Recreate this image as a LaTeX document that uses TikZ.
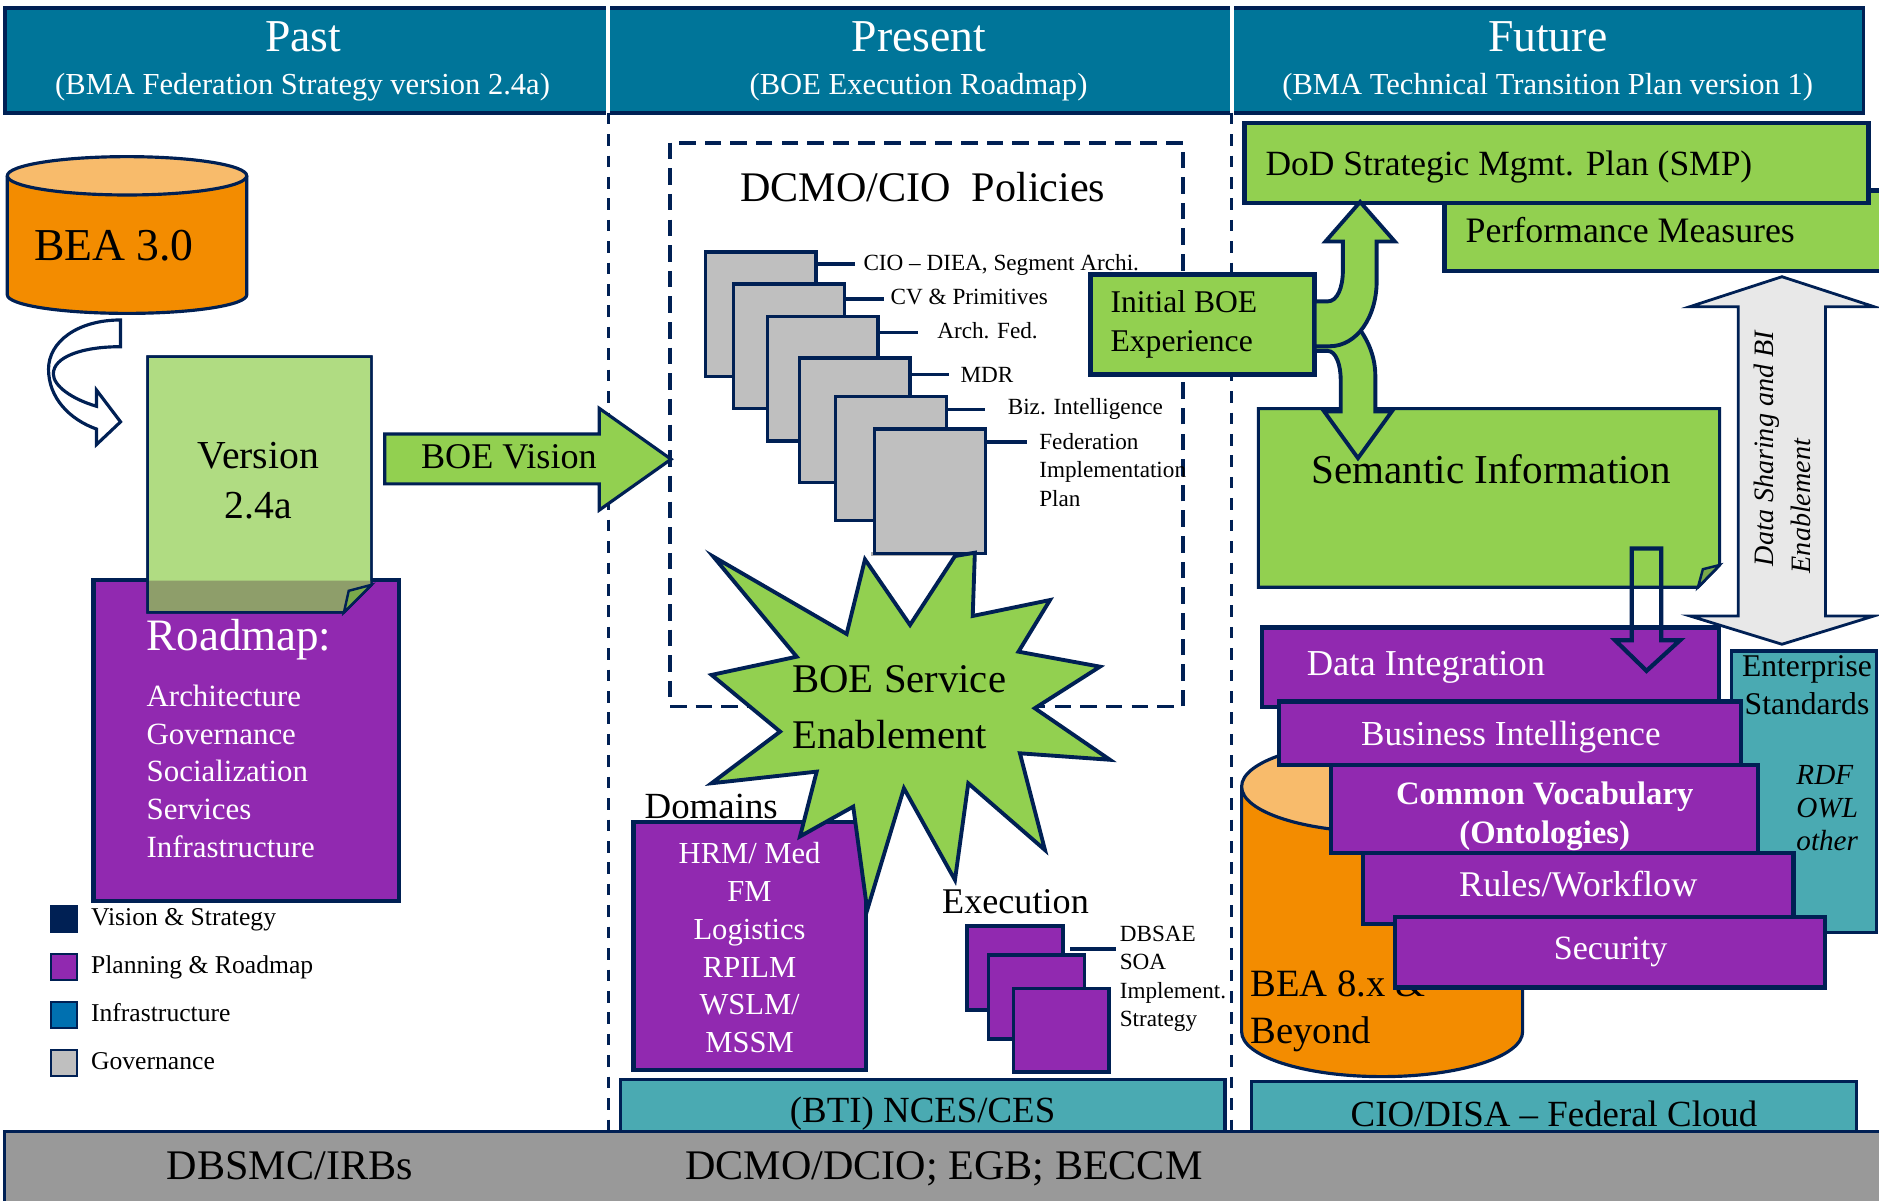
\documentclass[tikz,border=0pt]{standalone}
\usepackage{fontspec}
\setmainfont{Liberation Serif}

\definecolor{navy}{RGB}{0,32,84}
\definecolor{hdrteal}{RGB}{0,117,153}
\definecolor{infteal}{RGB}{74,170,178}
\definecolor{orng}{RGB}{243,140,0}
\definecolor{orngtop}{RGB}{248,187,107}
\definecolor{paleg}{RGB}{176,220,130}
\definecolor{grn}{RGB}{146,208,80}
\definecolor{flapg}{RGB}{122,170,74}
\definecolor{purp}{RGB}{145,41,176}
\definecolor{olivemix}{RGB}{142,158,106}
\definecolor{pagegray}{RGB}{191,191,191}
\definecolor{bargray}{RGB}{153,153,153}
\definecolor{infblue}{RGB}{0,112,176}
\definecolor{arrgray}{RGB}{232,232,232}

\newcommand{\fsz}[2]{\fontsize{#1}{#2}\selectfont}

\tikzset{
  outl/.style={draw=navy, line width=0.9pt},
  heavy/.style={draw=navy, line width=1.3pt},
  coldash/.style={draw=navy, line width=0.9pt, dash pattern=on 3.3pt off 2.8pt},
  boxdash/.style={draw=navy, line width=1.1pt, dash pattern=on 4.7pt off 2.6pt},
  lead/.style={draw=navy, line width=1pt},
  lbl/.style={inner sep=0pt, anchor=base west},
  lblc/.style={inner sep=0pt, anchor=base},
  hdtitle/.style={lblc, text=white, font=\fsz{13}{15}},
  hdsub/.style={lblc, text=white, font=\fsz{8.7}{10}},
  page/.style={draw=navy, line width=0.9pt, fill=pagegray, anchor=north west,
    inner sep=0pt, minimum width=1.108cm, minimum height=1.248cm},
  execsq/.style={draw=navy, line width=1pt, fill=purp, anchor=north west,
    inner sep=0pt, minimum width=0.96cm, minimum height=0.84cm},
  legsq/.style={draw=navy, line width=0.5pt, inner sep=0pt, minimum size=0.264cm},
  legtxt/.style={lbl, font=\fsz{7.3}{8}},
  tinytxt/.style={lbl, font=\fsz{6.6}{8.06}, align=left},
  stack/.style={draw=navy, line width=1.2pt, fill=purp},
}

\begin{document}
\begin{tikzpicture}[x=0.012cm, y=-0.012cm]
\useasboundingbox (0,0) rectangle (1568,1002);
\clip (0,0) rectangle (1568,1002);

% header band
\fill[hdrteal] (4,7) rectangle (1555,94);
\draw[navy, line width=1.1pt] (4,7) rectangle (1555,94);
\draw[white, line width=1pt] (507.5,5) -- (507.5,96) (1028,5) -- (1028,96);
\node[hdtitle] (past) at (253,43) {Past};
\node[hdsub] (pastsub) at (252.5,78.5) {(BMA Federation Strategy version 2.4a)};
\node[hdtitle] (present) at (767,43) {Present};
\node[hdsub] (presentsub) at (766.5,78.5) {(BOE Execution Roadmap)};
\node[hdtitle] (future) at (1291.5,43) {Future};
\node[hdsub] (futuresub) at (1291.5,78.5) {(BMA Technical Transition Plan version 1)};

% column separators
\draw[coldash] (507.5,94) -- (507.5,944);
\draw[coldash] (1028,94) -- (1028,944);

% past: BEA 3.0
\path[outl, fill=orng] (6.1,146.7) -- (6.1,246) .. controls (6.1,254.6) and (50.8,261.5) .. (106,261.5)
  .. controls (161.2,261.5) and (205.9,254.6) .. (205.9,246) -- (205.9,146.7);
\draw[outl, fill=orngtop] (106,146.7) ellipse [x radius=99.9, y radius=16];
\node[lbl, font=\fsz{13}{15}] (bea3) at (27.8,217.5) {BEA 3.0};

% u-turn arrow
\draw[outl, fill=white] (100.6,267) .. controls (65,267) and (40.5,285) .. (40.5,308)
  .. controls (40.5,332) and (58,350) .. (80.5,358) -- (80.5,371) -- (100.6,352) -- (80.5,325.5)
  -- (80.5,339) .. controls (60,333) and (44.5,322) .. (44.5,312)
  .. controls (44.5,298) and (68,289.3) .. (100.6,289.3) -- cycle;

% roadmap and version note
\draw[heavy, fill=purp] (78,484) rectangle (333,752);
\draw[navy, line width=0.7pt, fill=paleg] (123.2,297.6) -- (310,297.6) -- (310,488) -- (287,511) -- (123.2,511) -- cycle;
\fill[olivemix] (123.5,484.6) -- (309.6,484.6) -- (309.6,488) -- (287,510.6) -- (123.5,510.6) -- cycle;
\draw[navy, line width=0.7pt] (123.2,297.6) -- (310,297.6) -- (310,488) -- (287,511) -- (123.2,511) -- cycle;
\draw[navy, line width=0.7pt, fill=flapg] (287,511) -- (291,493) -- (310,488) -- cycle;
\node[lblc, align=center, font=\fsz{11.3}{14.3}] (version) at (215.7,432.6) {Version\\2.4a};
\node[lbl, text=white, font=\fsz{12.8}{15}] (roadmap) at (121.8,542.4) {Roadmap:};
\node[lbl, text=white, align=left, font=\fsz{8.8}{10.8}] (rmitems) at (121.8,715.8)
  {Architecture\\Governance\\Socialization\\Services\\Infrastructure};

% legend
\node[legsq, fill=navy] (lgvis) at (53.5,767) {};
\node[legsq, fill=purp] (lgplan) at (53.5,807) {};
\node[legsq, fill=infblue] (lginf) at (53.5,847) {};
\node[legsq, fill=pagegray] (lggov) at (53.5,887) {};
\node[legtxt] (lgvistxt) at (75.4,772.5) {Vision \& Strategy};
\node[legtxt] (lgplantxt) at (75.4,812.5) {Planning \& Roadmap};
\node[legtxt] (lginftxt) at (75.4,852.5) {Infrastructure};
\node[legtxt] (lggovtxt) at (75.4,892.5) {Governance};

% BOE vision arrow
\draw[outl, fill=grn] (321,362.1) -- (500,362.1) -- (500,340.7) -- (560,383.2) -- (500,425.7) -- (500,403.8) -- (321,403.8) -- cycle;
\node[lblc, font=\fsz{10.3}{12}] (vision) at (424.7,390.7) {BOE Vision};

% present: policies
\draw[boxdash] (559,119) rectangle (987,589.5);
\node[lblc, font=\fsz{12}{14}] (policies) at (770,168.1) {DCMO/CIO\ \ Policies};
\node[page] (pg1) at (587.2,209) {};
\node[page] (pg2) at (610.7,235.6) {};
\node[page] (pg3) at (639,262.6) {};
\node[page] (pg4) at (665.7,297.4) {};
\node[page] (pg5) at (696.1,329.3) {};
\fill[gray!65] (727,460.5) rectangle (806,464);
\node[page] (pg6) at (728.6,356.6) {};
\coordinate (ld1) at (713.6,220.4);
\coordinate (ld2) at (737.7,249.3);
\coordinate (ld3) at (766,277.3);
\coordinate (ld4) at (792.3,312.6);
\coordinate (ld5) at (822,341.8);
\coordinate (ld6) at (857,368.8);
\draw[lead] (pg1.east |- ld1) -- (ld1);
\draw[lead] (pg2.east |- ld2) -- (ld2);
\draw[lead] (pg3.east |- ld3) -- (ld3);
\draw[lead] (pg4.east |- ld4) -- (ld4);
\draw[lead] (pg5.east |- ld5) -- (ld5);
\draw[lead] (pg6.east |- ld6) -- (ld6);
\node[tinytxt] (lb1) at (720,225.6) {CIO -- DIEA, Segment Archi.};
\node[tinytxt] (lb2) at (742.7,254.3) {CV \& Primitives};
\node[tinytxt] (lb3) at (781.6,282.1) {Arch. Fed.};
\node[tinytxt] (lb4) at (801,318.8) {MDR};
\node[tinytxt] (lb5) at (840.4,346) {Biz. Intelligence};
\node[tinytxt] (lb6) at (866.7,422.4) {Federation\\Implementation\\Plan};

% domains
\draw[heavy, fill=purp] (528.6,686) rectangle (722.5,893);
\node[lblc, font=\fsz{10.5}{12}] (domains) at (593.5,682.8) {Domains};
\node[lblc, text=white, align=center, font=\fsz{8.7}{10.8}] (domitems) at (625.5,878.6)
  {HRM/ Med\\FM\\Logistics\\RPILM\\WSLM/\\MSSM};

% service enablement star
\draw[navy, line width=1.1pt, fill=grn] (595.3,464.5) -- (706.5,529) -- (721.8,466.8) -- (759.4,521.5)
  -- (796.9,464) -- (813.5,461.2) -- (811.7,514) -- (876.2,500.7) -- (849.9,543.8) -- (917.9,556.3)
  -- (863.5,591) -- (926.2,634) -- (851.1,628.6) -- (872,709.3) -- (808,653.7) -- (796.9,734.3)
  -- (754.3,657.8) -- (723.7,759.3) -- (712,673.1) -- (667.6,698) -- (681.5,643.9) -- (593.8,653.6)
  -- (651,610.5) -- (593.8,563.2) -- (664.8,548) -- cycle;
\node[lbl, align=left, font=\fsz{11.6}{16}] (boesvc) at (660.6,624.6) {BOE Service\\Enablement};

% execution
\node[lblc, font=\fsz{10.3}{12}] (execution) at (847.4,762.1) {Execution};
\node[execsq] (ex1) at (805.4,771.4) {};
\node[execsq] (ex2) at (823.4,795.3) {};
\node[execsq] (ex3) at (844.1,823.2) {};
\coordinate (ldex) at (930.9,791.9);
\draw[lead] (ex1.east |- ldex) ++(4.8,0) -- (ldex);
\node[tinytxt] (exlbl) at (933.9,856.5) {DBSAE\\SOA\\Implement.\\Strategy};

% initial BOE experience
\draw[heavy, fill=grn] (910,229) rectangle (1097.1,312.6);
\node[lbl, align=left, font=\fsz{9}{10.9}] (initboe) at (926.2,293.1) {Initial BOE\\Experience};

% future: plans
\draw[heavy, fill=grn] (1205.5,159) rectangle (1590,226);
\draw[heavy, fill=grn] (1038.5,102.5) rectangle (1559,169.5);
\node[lbl, font=\fsz{10.1}{12}] (smp) at (1055.5,146.1) {DoD Strategic Mgmt. Plan (SMP)};
\node[lbl, font=\fsz{10.2}{12}] (perf) at (1222.5,202.6) {Performance Measures};

% semantic note
\draw[outl, fill=grn] (1050.1,341) -- (1435,341) -- (1435,471.5) -- (1416.9,490) -- (1050.1,490) -- cycle;
\draw[navy, line width=0.7pt, fill=flapg] (1416.9,490) -- (1421,475) -- (1435,471.5) -- cycle;
\node[lblc, font=\fsz{11.7}{14}] (semantic) at (1244.4,403.8) {Semantic Information};

% split arrows from initial BOE
\draw[navy, line width=1.1pt, fill=grn] (1097.1,292.8) -- (1107.9,292.8) .. controls (1115,292.8) and (1118.8,305) .. (1118.8,316.9)
  -- (1118.8,343.4) -- (1105,343.4) -- (1133.2,382.3) -- (1161.4,343.4) -- (1147.7,343.4) -- (1147.7,314)
  .. controls (1147.7,298) and (1142,285) .. (1134.3,274.2) -- (1109.7,288.9) -- (1097.1,288.9) -- cycle;
\draw[navy, line width=1.1pt, fill=grn] (1097.1,251.5) -- (1107.9,251.5) .. controls (1116,251.5) and (1120.6,240) .. (1120.6,225.6)
  -- (1120.6,201.5) -- (1106.1,201.5) -- (1135,168.5) -- (1163.9,201.5) -- (1148.8,201.5) -- (1148.8,234.4)
  .. controls (1148.8,265) and (1132,288.9) .. (1109.7,288.9) -- (1097.1,288.9) -- cycle;

% data sharing double arrow
\draw[navy, line width=0.8pt, fill=arrgray] (1487,230.9) -- (1563.8,255.9) -- (1523.4,255.9) -- (1523.4,514)
  -- (1563.8,514) -- (1487,537.6) -- (1410.2,514) -- (1450.5,514) -- (1450.5,255.9) -- (1410.2,255.9) -- cycle;
\node[lbl, rotate=90, font=\itshape\fsz{8}{9}] (dsbi) at (1480.2,473) {Data Sharing and BI};
\node[lbl, rotate=90, font=\itshape\fsz{8}{9}] (dsen) at (1510.9,478.9) {Enablement};

% enterprise standards
\draw[outl, fill=infteal] (1445,543.2) rectangle (1566,778);
\node[lblc, align=center, font=\fsz{9}{10.9}] (entstd) at (1507.9,596.5) {Enterprise\\Standards};
\node[lbl, align=left, font=\itshape\fsz{8.3}{9.4}] (rdf) at (1498.5,710) {RDF\\OWL\\other};

% BEA 8.x cylinder
\path[outl, fill=orng] (1036.1,656.4) -- (1036.1,860.9) .. controls (1036.1,881.6) and (1088.6,898.4) .. (1153.35,898.4)
  .. controls (1218.1,898.4) and (1270.6,881.6) .. (1270.6,860.9) -- (1270.6,656.4);
\draw[outl, fill=orngtop] (1153.35,656.4) ellipse [x radius=117.25, y radius=38];
\node[lbl, align=left, font=\fsz{11}{13.3}] (bea8) at (1043,870.6) {BEA 8.x \&\\Beyond};

% stacked layers
\draw[stack] (1053,523.7) rectangle (1434.6,590.2);
\node[lbl, text=white, font=\fsz{10.4}{12}] (datint) at (1089.9,564) {Data Integration};
\draw[stack] (1067.5,585.4) rectangle (1452.9,638.5);
\node[lblc, text=white, font=\fsz{10}{12}] (bizint) at (1260.8,622.1) {Business Intelligence};
\draw[stack] (1110.6,638.5) rectangle (1466.9,711.5);
\node[lblc, text=white, align=center, font=\bfseries\fsz{9.3}{10.9}] (vocab) at (1289,703.5) {Common Vocabulary\\(Ontologies)};
\draw[stack] (1137.5,711.5) rectangle (1496.7,770.8);
\node[lblc, text=white, font=\fsz{10.3}{12}] (rules) at (1317,748.3) {Rules/Workflow};
\draw[stack] (1164,765) rectangle (1523,824);
\node[lblc, text=white, font=\fsz{9.7}{12}] (security) at (1344,801) {Security};

% semantic to data integration
\draw[navy, line width=1.2pt] (1361.7,457.7) -- (1361.7,534.2) -- (1347.7,534.2) -- (1374,559.8) -- (1402,534.2)
  -- (1386.2,534.2) -- (1386.2,457.7) -- cycle;

% infrastructure bars
\draw[outl, fill=infteal] (517.5,901) rectangle (1022.2,960);
\node[lblc, font=\fsz{10.5}{12}] (nces) at (769.9,936.7) {(BTI) NCES/CES};
\draw[outl, fill=infteal] (1044.4,902.6) rectangle (1549,960);
\node[lblc, font=\fsz{10.5}{12}] (cloud) at (1296.8,940) {CIO/DISA -- Federal Cloud};

% governance bar
\draw[outl, fill=bargray] (4,944) rectangle (1590,1020);
\node[lblc, font=\fsz{12}{14}] (dbsmc) at (241.9,984) {DBSMC/IRBs};
\node[lblc, font=\fsz{12}{14}] (dcmo) at (787.6,984) {DCMO/DCIO; EGB; BECCM};
\end{tikzpicture}
\end{document}
